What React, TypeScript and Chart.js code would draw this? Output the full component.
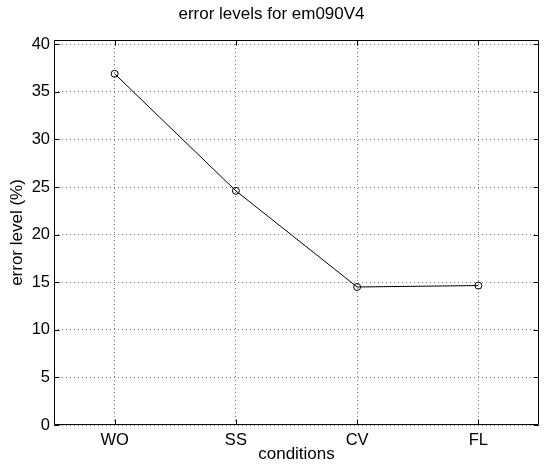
import React, { useEffect, useRef } from "react";
import { Chart, registerables } from "chart.js";

Chart.register(...registerables);

const categories = ["WO", "SS", "CV", "FL"];
const errorLevels = [36.9, 24.6, 14.5, 14.65];
const yTicks = [0, 5, 10, 15, 20, 25, 30, 35, 40];

const FONT = "'Liberation Sans', Arial, Helvetica, sans-serif";

const boxPlugin = {
  id: "matlabBox",
  afterDraw(chart: any) {
    const { ctx, chartArea } = chart;
    const { left, right, top, bottom } = chartArea;
    const xs = chart.scales.x;
    const ys = chart.scales.y;
    ctx.save();
    ctx.strokeStyle = "#000";
    ctx.lineWidth = 1;
    ctx.beginPath();
    const L = Math.round(left) + 0.5;
    const R = Math.round(right) - 0.5;
    const T = Math.round(top) + 0.5;
    const B = Math.round(bottom) - 0.5;
    ctx.rect(L, T, R - L, B - T);
    const tl = 5;
    categories.forEach((_, i) => {
      const px = Math.round(xs.getPixelForValue(i)) + 0.5;
      ctx.moveTo(px, B);
      ctx.lineTo(px, B - tl);
      ctx.moveTo(px, T);
      ctx.lineTo(px, T + tl);
    });
    yTicks.forEach((v) => {
      const py = Math.round(ys.getPixelForValue(v)) + 0.5;
      ctx.moveTo(L, py);
      ctx.lineTo(L + tl, py);
      ctx.moveTo(R, py);
      ctx.lineTo(R - tl, py);
    });
    ctx.stroke();
    ctx.restore();
  },
};

export default function App() {
  const ref = useRef<HTMLCanvasElement>(null);
  useEffect(() => {
    if (!ref.current) return;
    const chart = new Chart(ref.current, {
      type: "line",
      data: {
        labels: categories,
        datasets: [
          {
            data: errorLevels,
            borderColor: "#000",
            borderWidth: 1,
            backgroundColor: "rgba(0,0,0,0)",
            pointRadius: 3.5,
            pointBorderWidth: 1,
            pointBorderColor: "#000",
            pointBackgroundColor: "rgba(0,0,0,0)",
            tension: 0,
            fill: false,
          },
        ],
      },
      options: {
        animation: false,
        responsive: true,
        maintainAspectRatio: false,
        layout: { padding: { left: 0, right: 1, top: 0, bottom: 0 } },
        plugins: {
          legend: { display: false },
          tooltip: { enabled: false },
          title: {
            display: true,
            text: "error levels for em090V4",
            color: "#000",
            font: { family: FONT, size: 17, weight: "normal" },
            padding: { top: 4, bottom: 15.6 },
          },
        },
        scales: {
          x: {
            type: "category",
            offset: true,
            grid: {
              color: "#777",
              lineWidth: 1,
              drawTicks: false,
            },
            border: { display: false, dash: [1, 3] },
            ticks: {
              color: "#000",
              font: { family: FONT, size: 16.5 },
              padding: 6,
              maxRotation: 0,
            },
            title: {
              display: true,
              text: "conditions",
              color: "#000",
              font: { family: FONT, size: 17 },
              padding: { top: 0, bottom: 0 },
            },
            afterFit(scale: any) {
              scale.height = 40;
            },
          },
          y: {
            type: "linear",
            min: 0,
            max: 40.45,
            afterBuildTicks(scale: any) {
              scale.ticks = yTicks.map((v) => ({ value: v }));
            },
            grid: {
              color: "#777",
              lineWidth: 1,
              drawTicks: false,
            },
            border: { display: false, dash: [1, 3] },
            ticks: {
              color: "#000",
              font: { family: FONT, size: 16.5 },
              padding: 4,
            },
            title: {
              display: true,
              text: "error level (%)",
              color: "#000",
              font: { family: FONT, size: 17 },
              padding: { top: 7, bottom: 0 },
            },
            afterFit(scale: any) {
              scale.width = 54;
            },
          },
        },
      },
      plugins: [boxPlugin],
    });
    return () => chart.destroy();
  }, []);
  return (
    <div
      style={{
        position: "fixed",
        left: 0,
        top: 0,
        width: 544,
        height: 465,
        background: "#fff",
      }}
    >
      <canvas ref={ref} />
    </div>
  );
}
